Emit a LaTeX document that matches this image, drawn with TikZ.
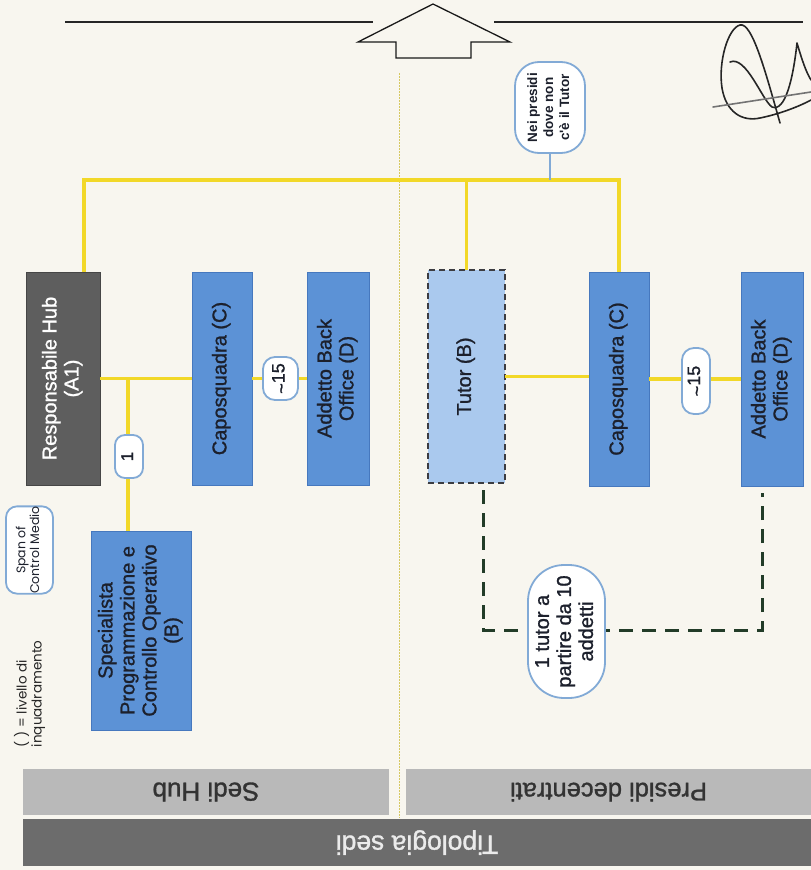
\documentclass[tikz,border=0pt]{standalone}
\usepackage{fontspec}
\setmainfont{Liberation Sans}[BoldFont=Liberation Sans, BoldFeatures={FakeBold=1.2}]
\newfontfamily\heavyfont{Liberation Sans Bold}
\newfontfamily\geofont{Poppins}
\usepackage{graphicx}
\definecolor{paper}{RGB}{248,246,239}
\definecolor{lineyellow}{RGB}{242,216,40}
\definecolor{divyellow}{RGB}{214,200,96}
\definecolor{boxblue}{RGB}{92,146,214}
\definecolor{boxblueD}{RGB}{70,120,190}
\definecolor{tutorblue}{RGB}{170,201,238}
\definecolor{boxgray}{RGB}{94,94,94}
\definecolor{boxgrayD}{RGB}{70,70,70}
\definecolor{dashgray}{RGB}{60,60,65}
\definecolor{pillblue}{RGB}{130,170,214}
\definecolor{dashgreen}{RGB}{34,60,40}
\definecolor{barlight}{RGB}{185,185,185}
\definecolor{bardark}{RGB}{108,108,108}
\definecolor{boxtext}{RGB}{28,32,44}
\newcommand{\rt}[3]{\rotatebox{90}{\fontsize{#1}{#2}\selectfont\begin{tabular}{@{}c@{}}#3\end{tabular}}}
\tikzset{
  nbase/.style={inner sep=0pt, outer sep=0pt, text=boxtext, align=center, font=\bfseries},
  bbox/.style={nbase, fill=boxblue, draw=boxblueD, line width=0.6pt},
  dbox/.style={nbase, fill=boxgray, draw=boxgrayD, line width=0.6pt, text=white},
  tbox/.style={nbase, fill=tutorblue, draw=dashgray, line width=1.8pt, dash pattern=on 6pt off 4pt},
  pill/.style={nbase, fill=white, draw=pillblue, line width=1.8pt, rounded corners=#1},
  pill/.default=12pt,
  barL/.style={nbase, fill=barlight, text=black!80},
  barD/.style={nbase, fill=bardark, text=black!8},
  yl/.style={draw=lineyellow, line width=3.2pt},
  gd/.style={draw=dashgreen, line width=3pt, dash pattern=on 14pt off 9pt},
  bl/.style={draw=pillblue, line width=1.8pt},
  sig/.style={draw=black!85, line width=1.6pt, line cap=round, line join=round},
}
\begin{document}
\begin{tikzpicture}[x=1pt, y=-1pt]
\useasboundingbox (0,0) rectangle (811,870);
\fill[paper] (0,0) rectangle (811,870);

% header lines and arrow
\coordinate (hl1) at (65,22); \coordinate (hl2) at (373,22);
\coordinate (hr1) at (494,22); \coordinate (hr2) at (803,22);
\draw[line width=1.4pt, black!85] (hl1) -- (hl2);
\draw[line width=1.4pt, black!85] (hr1) -- (hr2);
\draw[line width=1.3pt, black!90, fill=paper] (433,4) -- (510,42) -- (471,42) -- (471,58) -- (396,58) -- (396,42) -- (358,42) -- cycle;

% signature
\draw[sig] (780,123) .. controls (765,70) and (752,22) .. (740,25) .. controls (728,28) and (718,62) .. (722,88) .. controls (726,112) and (742,122) .. (760,118) .. controls (780,114) and (800,106) .. (811,100);
\draw[sig] (730,62) .. controls (746,55) and (762,100) .. (772,107) .. controls (785,112) and (793,80) .. (797,43) .. controls (802,60) and (806,72) .. (811,80);
\draw[sig, draw=black!55] (713,107) -- (811,92);

% divider
\coordinate (dv1) at (399,73); \coordinate (dv2) at (399,818);
\draw[divyellow, line width=0.9pt, dash pattern=on 1.5pt off 1.5pt] (dv1) -- (dv2);

% boxes left
\node[dbox, minimum width=74pt, minimum height=213pt] (rh) at (63,378.5) {\rt{20}{22}{Responsabile Hub\\(A1)}};
\node[bbox, minimum width=60pt, minimum height=213pt] (capoL) at (222,378.5) {\rt{20}{22}{Caposquadra (C)}};
\node[bbox, minimum width=62pt, minimum height=213pt] (addL) at (338,378.5) {\rt{20}{22}{Addetto Back\\Office (D)}};
\node[bbox, minimum width=100pt, minimum height=199pt] (spec) at (141,630.5) {\rt{20}{22}{Specialista\\Programmazione e\\Controllo Operativo\\(B)}};

% boxes right
\node[tbox, minimum width=77pt, minimum height=213pt] (tutor) at (466.5,376.5) {\rt{20}{22}{Tutor (B)}};
\node[bbox, minimum width=60pt, minimum height=214pt] (capoR) at (619,379) {\rt{20}{22}{Caposquadra (C)}};
\node[bbox, minimum width=62pt, minimum height=214pt] (addR) at (772,379) {\rt{20}{22}{Addetto Back\\Office (D)}};

% top connectors
\coordinate (topbar) at (0,180);
\draw[yl] ([xshift=21pt]rh.north) |- (topbar -| capoR.north) -- (capoR.north);
\draw[yl] (tutor.north) -- (tutor.north |- topbar);

\node[pill=24pt, minimum width=70pt, minimum height=91pt] (nei) at (550,107.5) {\heavyfont\rt{13.5}{16}{Nei presidi\\dove non\\c'è il Tutor}};
\draw[bl] (nei.south) -- (nei.south |- topbar);

% left connectors
\coordinate (br) at (128,378.5);
\draw[yl] (rh.east) -- (capoL.west);
\draw[yl] (br) -- (br |- spec.north);
\node[pill=10pt, minimum width=28pt, minimum height=43pt] (one) at (129,456.5) {\rt{17}{20}{1}};
\draw[yl] (capoL.east) -- (addL.west);
\node[pill=12pt, minimum width=35pt, minimum height=43pt] (sl) at (280.5,378.5) {\rt{18}{20}{\raisebox{-0.3ex}{\textasciitilde}15}};

% right connectors
\draw[yl] (tutor.east) -- (tutor.east -| capoR.west);
\draw[yl] (capoR.east) -- (addR.west);
\node[pill=12pt, minimum width=28pt, minimum height=66pt] (sr) at (696,381) {\rt{18}{20}{\raisebox{-0.3ex}{\textasciitilde}15}};

% dashed tutor relation
\coordinate (dl) at ([xshift=16.5pt, yshift=-7pt]tutor.south);
\coordinate (dr) at ([xshift=-10pt, yshift=-7pt]addR.south);
\coordinate (dbot) at (0,630);
\draw[gd] (dl) |- (dbot -| dr) -- (dr);
\node[pill=36pt, minimum width=77pt, minimum height=133pt] (t10) at (566.5,631.5) {\rt{20}{22}{1 tutor a\\partire da 10\\addetti}};

% legend
\node[pill=11pt, minimum width=47pt, minimum height=76pt, font=\mdseries] (span) at (29.5,550) {\geofont\rt{12.5}{13.5}{Span of\\Control Medio}};
\node[nbase, anchor=south, text=black!85, font=\mdseries] (lev) at (30,747) {\geofont\rotatebox{90}{\fontsize{13.5}{15}\selectfont\begin{tabular}{@{}l@{}}( ) = livello di\\inquadramento\end{tabular}}};

% bottom bars
\node[barL, minimum width=366pt, minimum height=46pt] (sedi) at (206,792) {\rotatebox{180}{\fontsize{26}{28}\selectfont Sedi Hub}};
\node[barL, minimum width=405pt, minimum height=46pt] (pres) at (608.5,792) {\rotatebox{180}{\fontsize{25.5}{28}\selectfont Presidi decentrati}};
\node[barD, minimum width=788pt, minimum height=47pt] (tipo) at (417,842.5) {\rotatebox{180}{\fontsize{26.5}{28}\selectfont Tipologia sedi}};
\end{tikzpicture}
\end{document}
